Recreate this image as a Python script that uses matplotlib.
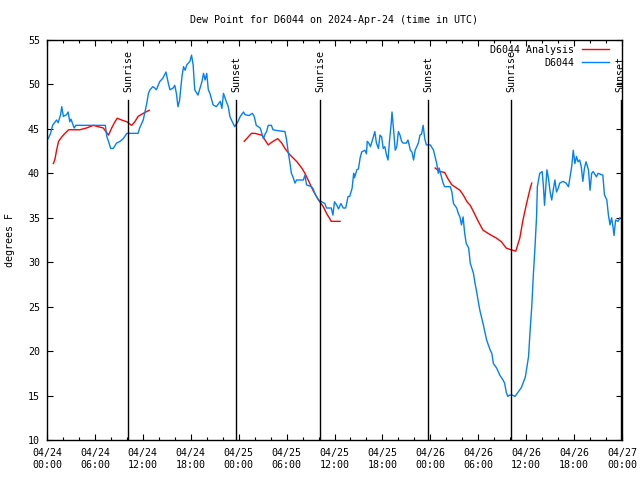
#dew point chart for station D6044

import numpy as np
import matplotlib
matplotlib.use('Agg')
import matplotlib.pyplot as plt

plt.rcParams['font.family'] = ['DejaVu Sans Mono']
plt.rcParams['font.size'] = 7.2

# observed dew point (hours since 04/24 00:00 UTC, deg F)
obs_hours = [0.15, 0.45, 0.7, 1.2, 1.4, 1.7, 1.85, 2.05, 2.45, 2.65, 2.85, 3.0, 3.2, 3.4, 3.6,
             7.3, 7.5, 7.7, 7.98, 8.3, 8.7, 9.15, 9.55, 10.0, 11.4, 11.6, 12.05, 12.5, 12.7, 12.9,
             13.25, 13.5, 13.7, 14.1, 14.5, 14.9, 15.2, 15.4, 15.8, 16.0, 16.2, 16.4, 16.6, 16.9,
             17.1, 17.3, 17.5, 17.9, 18.1, 18.3, 18.5, 18.9, 19.4, 19.6, 19.8, 20.0, 20.2, 20.4,
             20.8, 21.2, 21.7, 21.9, 22.1, 22.4, 22.7, 22.9, 23.1, 23.5, 23.9, 24.2, 24.6, 24.8,
             25.3, 25.7, 25.9, 26.0, 26.2, 26.7, 27.1, 27.3, 27.5, 27.7, 28.1, 28.3, 28.9, 29.8,
             30.0, 30.2, 30.4, 30.6, 30.8, 31.05, 31.25, 32.1, 32.3, 32.5, 33.1, 33.3, 33.6, 34.0,
             34.4, 34.8, 35.0, 35.6, 35.8, 36.0, 36.3, 36.5, 36.8, 37.1, 37.4, 37.7, 37.9, 38.2,
             38.4, 38.5, 38.8, 39.0, 39.2, 39.4, 39.8, 40.0, 40.1, 40.3, 40.5, 40.8, 41.05, 41.25,
             41.5, 41.7, 41.9, 42.1, 42.3, 42.5, 42.7, 42.9, 43.1, 43.2, 43.4, 43.6, 43.8, 44.0,
             44.2, 44.4, 44.6, 45.0, 45.2, 45.5, 45.7, 45.9, 46.1, 46.5, 46.7, 46.9, 47.1, 47.3,
             47.5, 48.0, 48.4, 48.8, 49.0, 49.1, 49.4, 49.6, 49.8, 50.5, 50.7, 50.9, 51.3, 51.5,
             51.7, 51.9, 52.1, 52.3, 52.5, 52.8, 53.0, 53.4, 53.6, 53.8, 54.0, 54.2, 54.6, 55.05,
             55.5, 55.7, 55.9, 56.3, 56.7, 57.1, 57.3, 57.5, 57.7, 57.9, 58.3, 58.6, 59.0, 59.4,
             59.9, 60.3, 60.5, 60.7, 60.9, 61.1, 61.3, 61.4, 61.7, 62.0, 62.15, 62.3, 62.6, 62.8,
             63.0, 63.2, 63.4, 63.6, 63.8, 64.0, 64.2, 64.6, 65.0, 65.3, 65.5, 65.7, 65.9, 66.1,
             66.3, 66.5, 66.7, 66.9, 67.1, 67.3, 67.5, 67.8, 68.0, 68.2, 68.4, 68.8, 69.0, 69.6,
             69.8, 70.1, 70.3, 70.5, 70.7, 70.9, 71.0, 71.2, 71.5, 71.75]
obs_vals = [43.9, 44.5, 45.4, 46.0, 45.7, 46.6, 47.5, 46.4, 46.6, 46.9, 45.8, 46.1, 45.6, 45.1, 45.4,
            45.4, 44.1, 43.6, 42.8, 42.8, 43.4, 43.6, 43.9, 44.5, 44.5, 45.1, 46.0, 47.9, 49.0, 49.4,
            49.75, 49.6, 49.4, 50.3, 50.7, 51.4, 50.1, 49.4, 49.6, 49.9, 49.0, 47.5, 48.2, 50.9,
            52.0, 51.6, 52.2, 52.6, 53.3, 52.2, 49.4, 48.8, 50.3, 51.25, 50.5, 51.25, 49.4, 49.0,
            47.7, 47.5, 48.1, 47.3, 49.0, 48.2, 47.5, 46.4, 46.0, 45.25, 45.8, 46.4, 46.9, 46.6,
            46.5, 46.75, 46.5, 46.2, 45.4, 45.1, 43.9, 44.4, 44.7, 45.4, 45.4, 44.9, 44.8, 44.7,
            43.75, 42.4, 41.3, 40.0, 39.6, 38.9, 39.25, 39.25, 39.8, 38.7, 38.5, 38.3, 37.6, 37.0,
            36.8, 36.6, 36.1, 36.1, 35.3, 36.8, 36.4, 36.0, 36.6, 36.1, 36.1, 37.4, 37.4, 38.3,
            40.0, 39.5, 40.4, 40.5, 41.7, 42.4, 42.6, 42.2, 43.6, 43.4, 43.0, 43.9, 44.7, 43.4,
            42.8, 44.3, 44.1, 42.8, 43.0, 42.1, 41.5, 43.8, 45.6, 46.9, 44.9, 42.6, 43.0, 44.7,
            44.3, 43.6, 43.4, 43.4, 43.75, 42.6, 42.4, 41.5, 42.6, 43.4, 44.3, 44.4, 45.4, 43.9,
            43.2, 43.2, 42.6, 41.1, 40.0, 40.6, 39.6, 38.9, 38.5, 38.5, 37.9, 36.6, 36.1, 35.5,
            35.1, 34.2, 35.1, 33.25, 32.1, 31.6, 29.9, 28.75, 27.6, 26.7, 25.6, 24.6, 23.1, 21.25,
            20.1, 19.75, 18.6, 18.1, 17.3, 16.75, 16.4, 15.4, 14.9, 15.05, 15.05, 14.9, 15.4, 15.9,
            17.1, 19.4, 22.4, 25.0, 28.6, 31.6, 35.1, 38.5, 40.0, 40.2, 38.7, 36.4, 40.4, 39.4,
            37.9, 37.0, 38.2, 39.25, 37.9, 38.3, 38.9, 39.1, 38.9, 38.5, 39.6, 40.75, 42.6, 41.1,
            41.9, 41.3, 41.5, 40.75, 39.1, 40.6, 41.3, 40.4, 38.1, 40.0, 40.2, 39.6, 40.0, 39.8,
            37.6, 37.0, 35.3, 34.2, 35.0, 33.8, 33.0, 34.75, 34.6, 35.0]

# analysis dew point, three separate runs (nan = gap)
ana_hours = [0.8, 1.0, 1.2, 1.45, 1.85, 2.25, 2.7, 4.1, 4.95, 5.8, 6.4, 7.05, 7.7, 8.1, 8.5, 8.8,
             9.35, 10.0, 10.6, 11.0, 11.4, 12.05, 12.8, 18.0,
             24.7, 25.2, 25.6, 26.0, 26.9, 27.3, 27.7, 28.3, 28.9, 29.4, 29.8, 30.4, 31.3, 31.9,
             32.3, 32.7, 33.3, 34.0, 34.6, 35.0, 35.6, 36.7, 42.0,
             48.6, 49.2, 49.8, 50.2, 50.7, 51.7, 52.1, 52.6, 53.0, 53.4, 54.0, 54.6, 55.5, 56.3,
             56.9, 57.5, 58.1, 58.7, 59.2, 59.6, 60.05, 60.5, 60.7]
ana_vals = [41.1, 41.6, 42.6, 43.6, 44.1, 44.5, 44.9, 44.9, 45.1, 45.4, 45.25, 45.1, 44.3, 45.1, 45.8, 46.2,
            46.0, 45.8, 45.4, 45.8, 46.4, 46.75, 47.1, np.nan,
            43.6, 44.1, 44.5, 44.5, 44.3, 43.75, 43.2, 43.6, 43.9, 43.4, 42.8, 42.1, 41.3, 40.6,
            40.0, 39.25, 38.1, 37.0, 36.25, 35.5, 34.6, 34.6, np.nan,
            40.6, 40.2, 40.1, 39.4, 38.7, 38.1, 37.6, 36.8, 36.4, 35.7, 34.6, 33.6, 33.1, 32.7,
            32.3, 31.6, 31.4, 31.25, 32.7, 34.75, 36.6, 38.3, 38.9]

# sun events (hours since start)
sun_hours = [10.18, 23.67, 34.23, 47.75, 58.1, 71.84]
sun_names = ['Sunrise', 'Sunset', 'Sunrise', 'Sunset', 'Sunrise', 'Sunset']

tick_hours = [0, 6, 12, 18, 24, 30, 36, 42, 48, 54, 60, 66, 72]
tick_labels = ['04/24\n00:00', '04/24\n06:00', '04/24\n12:00', '04/24\n18:00',
               '04/25\n00:00', '04/25\n06:00', '04/25\n12:00', '04/25\n18:00',
               '04/26\n00:00', '04/26\n06:00', '04/26\n12:00', '04/26\n18:00',
               '04/27\n00:00']

fig = plt.figure(figsize=(6.4, 4.8), dpi=100)
ax = fig.add_axes([47/640, 40/480, 575/640, 400/480])

ax.plot(ana_hours, ana_vals, color='#ff0000', lw=1.0, label='D6044 Analysis')
ax.plot(obs_hours, obs_vals, color='#0080ff', lw=1.0, label='D6044')

for h, name in zip(sun_hours, sun_names):
    ax.plot([h, h], [10, 48.3], color='black', lw=1.0)
    ax.text(h, 49.1, name, rotation=90, ha='center', va='bottom')

ax.set_xlim(0, 72)
ax.set_ylim(10, 55)
ax.set_xticks(tick_hours)
ax.set_xticklabels(tick_labels, linespacing=1.15)
ax.set_xticks(np.arange(0, 73, 2), minor=True)
ax.set_yticks(np.arange(10, 56, 5))
ax.tick_params(which='both', direction='in', top=True, right=True, width=0.8)
ax.tick_params(which='major', length=4)
ax.tick_params(which='minor', length=2.5)
ax.tick_params(axis='x', pad=6)
ax.tick_params(axis='y', pad=5)
for s in ax.spines.values():
    s.set_linewidth(1.0)

ax.set_title('Dew Point for D6044 on 2024-Apr-24 (time in UTC)', fontsize=7.2, pad=12)
fig.text(10/640, 0.5, 'degrees F', rotation=90, ha='center', va='center')

ax.legend(loc='upper right', bbox_to_anchor=(1 - 7/575, 1.0025), frameon=False,
          markerfirst=False, handlelength=2.7, handletextpad=0.8, labelspacing=0.3,
          borderaxespad=0.3, borderpad=0.3)

plt.savefig('out.png', dpi=100)
